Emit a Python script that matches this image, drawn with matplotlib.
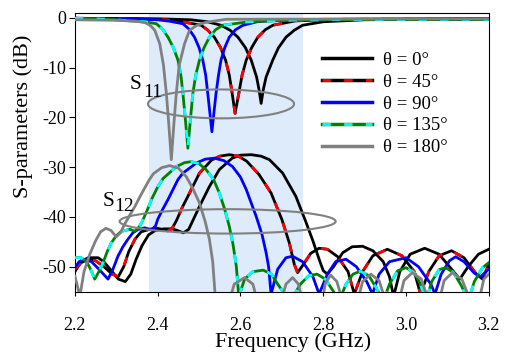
import matplotlib
matplotlib.use('Agg')
import matplotlib.pyplot as plt
from matplotlib.patches import Ellipse
from matplotlib.legend_handler import HandlerTuple

plt.rcParams['font.family'] = ['Liberation Serif', 'DejaVu Serif']
plt.rcParams['axes.unicode_minus'] = False
plt.rcParams['lines.scale_dashes'] = False

# --- data (frequency in GHz, level in dB) ---
labels = ['θ = 0°', 'θ = 45°', 'θ = 90°', 'θ = 135°', 'θ = 180°']

s11_0 = [(2.20, -0.1), (2.40, -0.2), (2.48, -0.4), (2.52, -0.8), (2.553, -1.5), (2.575, -2.5),
         (2.594, -3.9), (2.612, -6.0), (2.626, -8.5), (2.639, -11.9), (2.645, -14.5), (2.650, -17.2),
         (2.655, -14.5), (2.662, -11.9), (2.678, -8.5), (2.692, -6.0), (2.71, -3.9), (2.73, -2.5),
         (2.75, -1.5), (2.80, -0.8), (2.90, -0.4), (3.20, -0.2)]
s11_45 = [(2.20, -0.1), (2.35, -0.2), (2.42, -0.4), (2.46, -0.8), (2.505, -1.5), (2.52, -2.4),
          (2.537, -3.9), (2.552, -6.0), (2.564, -8.5), (2.573, -11.5), (2.58, -15.2), (2.587, -19.2),
          (2.596, -15.2), (2.604, -11.5), (2.614, -8.5), (2.627, -6.0), (2.642, -3.9), (2.66, -2.4),
          (2.678, -1.5), (2.734, -0.6), (2.85, -0.3), (3.20, -0.2)]
s11_90 = [(2.20, -0.1), (2.33, -0.2), (2.40, -0.4), (2.43, -0.7), (2.461, -1.2), (2.475, -2.2),
          (2.489, -3.9), (2.50, -6.0), (2.509, -8.5), (2.516, -11.5), (2.521, -15.2), (2.526, -19.0),
          (2.531, -22.9), (2.536, -19.0), (2.541, -15.2), (2.547, -11.5), (2.553, -8.5), (2.562, -6.0),
          (2.573, -3.9), (2.588, -2.4), (2.606, -1.5), (2.64, -0.8), (2.68, -0.5), (2.80, -0.3), (3.20, -0.2)]
s11_135 = [(2.20, -0.1), (2.28, -0.3), (2.33, -0.6), (2.37, -0.8), (2.397, -1.2), (2.412, -2.3),
           (2.425, -3.9), (2.438, -6.0), (2.449, -8.5), (2.456, -11.5), (2.461, -15.2), (2.467, -20.5),
           (2.473, -26.2), (2.479, -20.5), (2.485, -15.2), (2.492, -11.5), (2.501, -8.5), (2.512, -6.0),
           (2.525, -3.9), (2.54, -2.4), (2.557, -1.5), (2.62, -0.8), (2.75, -0.4), (3.20, -0.3)]
s11_180 = [(2.20, -0.4), (2.30, -0.5), (2.35, -0.7), (2.37, -1.0), (2.383, -1.6), (2.393, -2.5),
           (2.405, -5.2), (2.414, -9.5), (2.421, -15.2), (2.427, -21.5), (2.433, -28.5), (2.439, -21.5),
           (2.445, -15.2), (2.452, -9.5), (2.465, -5.2), (2.477, -2.5), (2.495, -1.5), (2.517, -0.9),
           (2.566, -0.3), (3.20, -0.2)]

s12_0 = [(2.200, -51.0), (2.215, -49.0), (2.232, -48.2), (2.256, -48.2), (2.270, -49.0), (2.285, -50.5),
         (2.305, -52.5), (2.322, -53.0), (2.335, -51.5), (2.348, -48.5), (2.362, -45.8), (2.378, -43.6),
         (2.395, -42.7), (2.415, -42.4), (2.435, -42.4), (2.450, -42.8), (2.462, -43.2), (2.475, -42.5),
         (2.488, -40.2), (2.501, -37.9), (2.525, -33.9), (2.549, -30.5), (2.58, -28.2), (2.60, -27.6),
         (2.626, -27.5), (2.65, -27.8), (2.67, -28.5), (2.702, -31.2), (2.734, -35.9), (2.758, -41.0),
         (2.775, -44.8), (2.79, -48.5), (2.80, -50.8), (2.81, -51.5), (2.825, -50.0), (2.847, -47.2),
         (2.87, -46.0), (2.895, -45.9), (2.92, -46.8), (2.945, -49.0), (2.96, -52.0), (2.97, -56.0),
         (2.985, -51.0), (3.01, -47.5), (3.045, -46.3), (3.08, -47.5), (3.11, -50.5), (3.13, -52.5),
         (3.15, -50.0), (3.175, -47.5), (3.20, -46.5)]
s12_45 = [(2.20, -50.5), (2.215, -49.2), (2.23, -48.6), (2.25, -48.8), (2.27, -50.0), (2.29, -51.5),
          (2.305, -52.0), (2.318, -50.0), (2.33, -47.0), (2.345, -44.5), (2.36, -43.0), (2.38, -42.5),
          (2.40, -42.3), (2.415, -42.6), (2.425, -42.8), (2.435, -42.3), (2.445, -40.8), (2.46, -38.0),
          (2.477, -35.2), (2.501, -31.2), (2.53, -28.6), (2.55, -27.8), (2.573, -27.5), (2.595, -27.8),
          (2.615, -28.8), (2.645, -31.5), (2.674, -35.2), (2.70, -40.5), (2.718, -45.2), (2.73, -49.5),
          (2.738, -51.2), (2.75, -49.8), (2.77, -47.3), (2.79, -46.3), (2.81, -46.5), (2.835, -48.0),
          (2.86, -51.0), (2.875, -55.5), (2.895, -51.0), (2.92, -47.8), (2.955, -46.5), (2.99, -47.8),
          (3.02, -51.0), (3.035, -55.5), (3.055, -51.0), (3.08, -47.8), (3.11, -46.8), (3.14, -48.2),
          (3.17, -51.5), (3.185, -52.5), (3.20, -49.5)]
s12_90 = [(2.20, -50.2), (2.21, -49.0), (2.222, -48.5), (2.24, -49.0), (2.258, -50.5), (2.28, -52.5),
          (2.292, -50.5), (2.304, -47.9), (2.316, -46.0), (2.328, -44.5), (2.34, -43.2), (2.353, -42.5),
          (2.369, -42.2), (2.385, -42.6), (2.395, -41.8), (2.40, -40.5), (2.412, -38.5), (2.425, -36.5),
          (2.449, -32.5), (2.461, -31.2), (2.493, -29.2), (2.515, -28.4), (2.537, -28.2), (2.56, -28.7),
          (2.581, -29.9), (2.60, -32.0), (2.614, -34.5), (2.638, -39.9), (2.652, -43.5), (2.662, -47.2),
          (2.668, -50.0), (2.674, -55.5), (2.69, -50.5), (2.71, -48.2), (2.726, -47.9), (2.75, -49.0),
          (2.775, -52.0), (2.79, -55.5), (2.81, -51.5), (2.83, -49.0), (2.855, -48.5), (2.88, -50.0),
          (2.905, -53.0), (2.919, -55.5), (2.935, -51.5), (2.96, -49.0), (3.00, -48.2), (3.03, -50.0),
          (3.06, -53.5), (3.07, -55.5), (3.085, -51.5), (3.105, -48.8), (3.12, -48.0), (3.14, -49.0),
          (3.165, -51.3), (3.18, -52.0), (3.20, -50.5)]
s12_135 = [(2.20, -48.2), (2.215, -48.2), (2.228, -49.0), (2.236, -50.2), (2.248, -52.5), (2.258, -51.0),
           (2.268, -49.2), (2.278, -47.0), (2.288, -45.2), (2.30, -43.8), (2.312, -42.9), (2.333, -42.5),
           (2.345, -42.9), (2.355, -42.0), (2.361, -41.2), (2.373, -39.0), (2.385, -36.5), (2.40, -34.0),
           (2.413, -32.3), (2.445, -29.9), (2.465, -29.1), (2.481, -28.9), (2.50, -29.3), (2.517, -30.5),
           (2.535, -32.5), (2.549, -35.2), (2.562, -38.5), (2.573, -41.9), (2.582, -45.5), (2.59, -49.9),
           (2.596, -56.0), (2.61, -52.5), (2.63, -51.0), (2.655, -50.7), (2.675, -51.5), (2.69, -53.5),
           (2.72, -57.0), (2.745, -53.5), (2.765, -51.8), (2.785, -51.5), (2.805, -52.5), (2.825, -55.0),
           (2.838, -57.0), (2.855, -53.5), (2.872, -51.5), (2.89, -50.9), (2.91, -51.8), (2.93, -54.5),
           (2.945, -57.0), (2.96, -53.5), (2.98, -50.8), (3.00, -50.2), (3.02, -51.2), (3.035, -53.5),
           (3.048, -57.0), (3.062, -53.0), (3.08, -50.6), (3.096, -50.2), (3.115, -51.2), (3.135, -54.0),
           (3.15, -57.0), (3.165, -53.0), (3.185, -50.2), (3.20, -49.2)]
s12_180 = [(2.20, -51.9), (2.205, -53.5), (2.212, -56.0), (2.222, -51.0), (2.236, -47.5), (2.25, -44.8),
           (2.262, -43.0), (2.275, -42.3), (2.287, -42.7), (2.30, -44.0), (2.31, -43.2), (2.32, -41.5),
           (2.335, -39.3), (2.345, -37.9), (2.36, -35.5), (2.37, -34.0), (2.38, -32.5), (2.39, -31.3),
           (2.41, -30.1), (2.429, -29.7), (2.45, -30.2), (2.469, -31.9), (2.485, -34.3), (2.501, -37.2),
           (2.515, -41.0), (2.525, -44.5), (2.533, -49.0), (2.54, -57.0), (2.555, -60.0), (2.573, -57.0),
           (2.585, -53.5), (2.61, -52.2), (2.63, -53.5), (2.641, -57.0), (2.67, -60.0), (2.698, -57.0),
           (2.71, -53.5), (2.726, -52.2), (2.74, -53.5), (2.75, -57.0), (2.775, -60.0), (2.798, -57.0),
           (2.805, -53.3), (2.818, -51.7), (2.833, -53.0), (2.847, -57.0), (2.865, -60.0), (2.883, -57.0),
           (2.895, -53.0), (2.915, -51.5), (2.935, -52.8), (2.951, -57.0), (2.967, -60.0), (2.983, -57.0),
           (2.995, -52.8), (3.015, -51.2), (3.037, -52.5), (3.055, -57.0), (3.068, -60.0), (3.08, -57.0),
           (3.092, -52.8), (3.112, -51.2), (3.135, -52.5), (3.156, -57.0), (3.166, -60.0), (3.176, -57.0),
           (3.188, -52.5), (3.20, -51.5)]

s11_all = [s11_0, s11_45, s11_90, s11_135, s11_180]
s12_all = [s12_0, s12_45, s12_90, s12_135, s12_180]

# base colour, dash colour (None = solid)
base_colors = ['black', 'black', 'blue', 'green', 'gray']
dash_colors = [None, 'red', None, 'cyan', None]

fig = plt.figure(figsize=(5.06, 3.56), dpi=100)
ax = fig.add_axes([0.148, 0.181, 0.818, 0.783])

ax.axvspan(2.38, 2.75, color='#ddebfa', zorder=0, lw=0)

handles = []
for k in range(5):
    for curve in (s11_all[k], s12_all[k]):
        f = [p[0] for p in curve]
        v = [p[1] for p in curve]
        base, = ax.plot(f, v, color=base_colors[k], lw=2.0, zorder=2 + k)
        if dash_colors[k] is not None:
            over, = ax.plot(f, v, color=dash_colors[k], lw=2.0, zorder=2 + k,
                            dashes=(6, 9.6), dash_capstyle='butt')
    if dash_colors[k] is not None:
        handles.append((base, over))
    else:
        handles.append(base)

# annotation ellipses
ax.add_patch(Ellipse((2.553, -17.3), 0.353, 5.8, fill=False, ec='gray', lw=1.5, zorder=10))
ax.add_patch(Ellipse((2.569, -40.9), 0.522, 4.9, fill=False, ec='gray', lw=1.5, zorder=10))

ax.text(2.332, -14.4, 'S', fontsize=15.5, ha='left', va='baseline', zorder=11)
ax.text(2.364, -15.9, '11', fontsize=14, ha='left', va='baseline', zorder=11)
ax.text(2.268, -37.8, 'S', fontsize=15.5, ha='left', va='baseline', zorder=11)
ax.text(2.296, -38.9, '12', fontsize=14, ha='left', va='baseline', zorder=11)

ax.set_xlim(2.2, 3.2)
ax.set_ylim(-55, 1)
ax.set_xticks([2.2, 2.4, 2.6, 2.8, 3.0, 3.2])
ax.set_xticklabels(['2.2', '2.4', '2.6', '2.8', '3.0', '3.2'])
ax.set_yticks([0, -10, -20, -30, -40, -50])
ax.tick_params(axis='x', direction='out', length=3, width=0.8, pad=15, labelsize=13)
ax.tick_params(axis='y', direction='out', length=4, width=0.8, pad=2, labelsize=13)
for s in ax.spines.values():
    s.set_linewidth(0.8)

ax.set_xlabel('Frequency (GHz)', fontsize=16)
ax.set_ylabel('S-parameters (dB)', fontsize=16)
ax.xaxis.set_label_coords(0.527, -0.145)
ax.yaxis.set_label_coords(-0.10, 0.63)

leg = ax.legend(handles, labels, loc='upper left', bbox_to_anchor=(0.596, 0.86),
                frameon=False, fontsize=13.5, handlelength=2.7, handletextpad=0.6,
                labelspacing=0.25, borderpad=0, borderaxespad=0,
                handler_map={tuple: HandlerTuple(ndivide=1)})
for h in leg.legend_handles:
    h.set_linewidth(2.5)
leg.set_zorder(20)

fig.savefig('out.png', dpi=100)
